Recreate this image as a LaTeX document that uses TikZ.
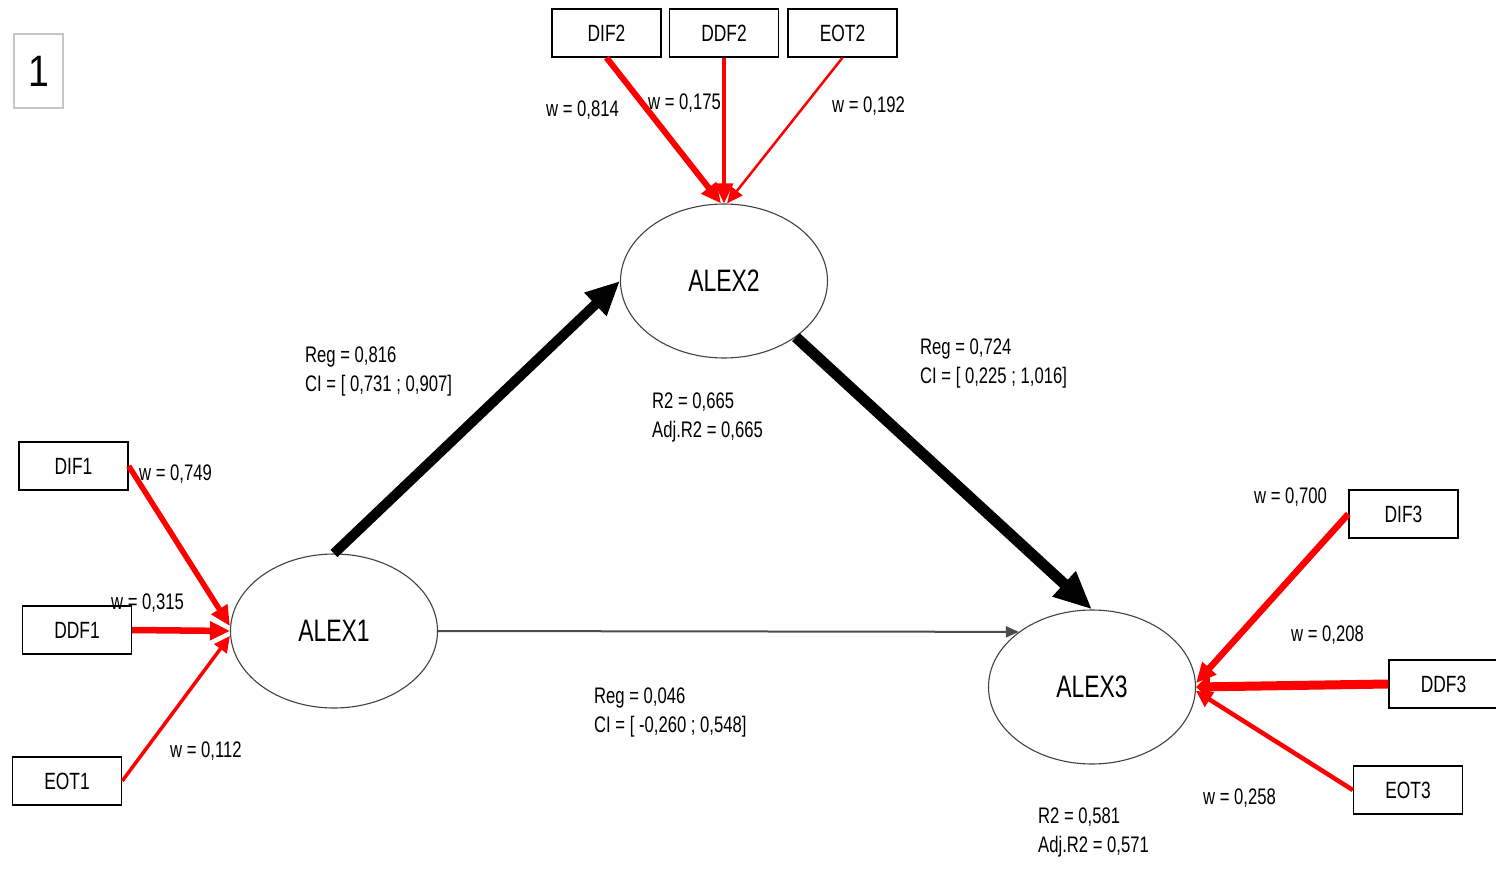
\documentclass[tikz,border=0pt]{standalone}
\usepackage{fontspec}
\setmainfont{Liberation Sans}[FakeStretch=0.74]
\newfontfamily\plainfont{Liberation Sans}[FakeStretch=0.85]
\usetikzlibrary{shapes.geometric,arrows.meta,calc}
\begin{document}
\begin{tikzpicture}[x=1pt,y=-1pt,
  ind/.style={draw=black,line width=1.4pt,minimum width=109pt,minimum height=48pt,inner sep=0pt,font=\fontsize{23.5}{26}\selectfont},
  lat/.style={draw=black!75,line width=1.1pt,ellipse,minimum width=207pt,minimum height=154pt,inner sep=0pt,font=\fontsize{31}{34}\selectfont},
  lbl/.style={inner sep=0pt,anchor=west,align=left,font=\fontsize{22.5}{29}\selectfont},
  redarr/.style={draw=red,-{Triangle[length=20pt,width=18pt]}},
  blkarr/.style={draw=black,-{Triangle[length=34pt,width=30pt]}}
]
\useasboundingbox (0,0) rectangle (1496,869);
% number box
\node[draw=black!22,line width=1.5pt,minimum width=49pt,minimum height=74pt,inner sep=0pt,font=\plainfont\fontsize{44}{48}\selectfont] (num) at (38.5,71) {1};
% indicators
\node[ind] (dif2) at (606.5,33) {DIF2};
\node[ind] (ddf2) at (724,33) {DDF2};
\node[ind] (eot2) at (842.5,33) {EOT2};
\node[ind] (dif1) at (73.5,466) {DIF1};
\node[ind] (ddf1) at (77,630) {DDF1};
\node[ind] (eot1) at (67,781) {EOT1};
\node[ind] (dif3) at (1403.5,514) {DIF3};
\node[ind] (ddf3) at (1443.5,684) {DDF3};
\node[ind] (eot3) at (1408,790) {EOT3};
% latent
\node[lat] (alex2) at (724,281) {ALEX2};
\node[lat] (alex1) at (334,631) {ALEX1};
\node[lat] (alex3) at (1092,687) {ALEX3};
% red arrows
\draw[redarr,line width=6pt] (dif2.south) -- ($(alex2.north)+(-3,0)$);
\draw[redarr,line width=3.5pt] (ddf2.south) -- (alex2.north);
\draw[redarr,line width=2.5pt,-{Triangle[length=16pt,width=14pt]}] (eot2.south) -- ($(alex2.north)+(3,0)$);
\draw[redarr,line width=5.5pt] (dif1.east) -- ($(alex1.west)+(0,-5)$);
\draw[redarr,line width=6.5pt] (ddf1.east) -- (alex1.west);
\draw[redarr,line width=3.5pt,-{Triangle[length=16pt,width=15pt]}] (eot1.east) -- ($(alex1.west)+(0,5)$);
\draw[redarr,line width=6.5pt] (dif3.west) -- ($(alex3.east)+(0,-4)$);
\draw[redarr,line width=9pt,-{Triangle[length=14pt,width=26pt]}] (ddf3.west) -- (alex3.east);
\draw[redarr,line width=4.5pt,-{Triangle[length=16pt,width=17pt]}] (eot3.west) -- ($(alex3.east)+(0,4)$);
% black structural arrows
\draw[blkarr,line width=10pt] (alex1.north) -- (alex2.west);
\draw[blkarr,line width=11pt,-{Triangle[length=38pt,width=32pt]}] (alex2.-38) -- (alex3.north);
\draw[draw=black!70,line width=2pt,-{Triangle[length=13pt,width=11pt]}] (alex1.east) -- (alex3.143);
% weights
\node[lbl] (w1) at (546,110) {w = 0,814};
\node[lbl] (w2) at (648,103) {w = 0,175};
\node[lbl] (w3) at (832,106) {w = 0,192};
\node[lbl] (w4) at (139,474) {w = 0,749};
\node[lbl] (w5) at (111,603) {w = 0,315};
\node[lbl] (w6) at (170,751) {w = 0,112};
\node[lbl] (w7) at (1254,497) {w = 0,700};
\node[lbl] (w8) at (1291,635) {w = 0,208};
\node[lbl] (w9) at (1203,798) {w = 0,258};
% regression labels
\node[lbl] (r1) at (305,371) {Reg = 0,816\\CI = [ 0,731 ; 0,907]};
\node[lbl] (r2) at (652,417) {R2 = 0,665\\Adj.R2 = 0,665};
\node[lbl] (r3) at (920,363) {Reg = 0,724\\CI = [ 0,225 ; 1,016]};
\node[lbl] (r4) at (594,712.5) {Reg = 0,046\\CI = [ -0,260 ; 0,548]};
\node[lbl] (r5) at (1038,832) {R2 = 0,581\\Adj.R2 = 0,571};
\end{tikzpicture}
\end{document}
